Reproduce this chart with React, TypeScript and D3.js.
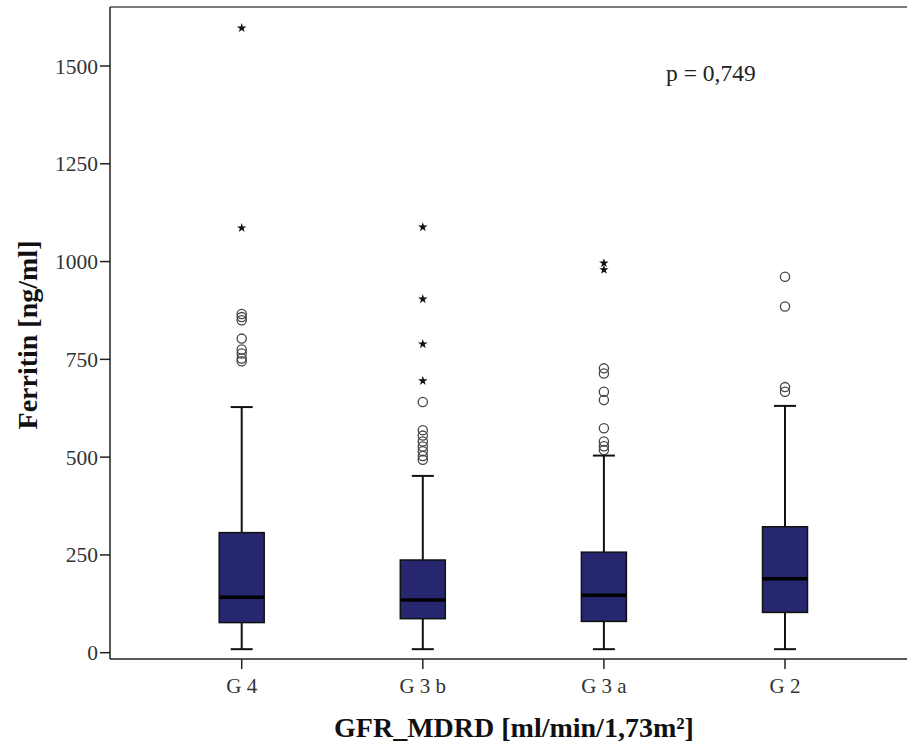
import React from "react";
import * as d3 from "d3";

const categories = ["G 4", "G 3 b", "G 3 a", "G 2"];
const q1 = [77, 87, 80, 103];
const median = [142, 135, 147, 189];
const q3 = [307, 237, 257, 322];
const whiskerLow = [9, 9, 9, 9];
const whiskerHigh = [628, 452, 504, 631];
const outlierCircles = [
  [866, 858, 850, 803, 775, 765, 752, 745],
  [641, 569, 555, 540, 527, 515, 503, 493],
  [727, 714, 667, 646, 574, 540, 528, 518],
  [961, 885, 679, 667],
];
const extremeStars = [
  [1597, 1086],
  [1088, 904, 789, 695],
  [996, 979],
  [],
];
const yTicks = [0, 250, 500, 750, 1000, 1250, 1500];
const pText = "p = 0,749";
const yTitle = "Ferritin [ng/ml]";
const xTitle = "GFR_MDRD [ml/min/1,73m²]";

const W = 907;
const H = 745;
const left = 110;
const right = 917;
const top = 7;
const bottom = 659;

export default function App() {
  const y = d3.scaleLinear().domain([0, 1500]).range([652.7, 66]);
  const x = d3
    .scalePoint<string>()
    .domain(categories)
    .range([241.7, 785]);
  const boxW = 45;
  const capW = 22;
  const star = d3.symbol().type(d3.symbolStar).size(28)() as string;
  const serif = "'Liberation Serif', 'Times New Roman', serif";
  const boxFill = "#27276f";

  return (
    <svg
      width={W}
      height={H}
      style={{ position: "absolute", left: 0, top: 0, background: "#fff" }}
      fontFamily={serif}
    >
      <rect x={0} y={0} width={W} height={H} fill="#fff" />
      {/* frame */}
      <line x1={left} x2={right} y1={top} y2={top} stroke="#7a7a7a" strokeWidth={2} />
      <line x1={left} x2={left} y1={top} y2={bottom} stroke="#222" strokeWidth={1.5} />
      <line x1={left} x2={right} y1={bottom} y2={bottom} stroke="#222" strokeWidth={1.5} />
      {/* y ticks */}
      {yTicks.map((t) => (
        <g key={t}>
          <line x1={left - 10} x2={left} y1={y(t)} y2={y(t)} stroke="#222" strokeWidth={1.5} />
          <text
            x={left - 12}
            y={y(t)}
            dy="0.35em"
            textAnchor="end"
            fontSize={21.5}
            fill="#333"
          >
            {t}
          </text>
        </g>
      ))}
      {/* x ticks */}
      {categories.map((c) => (
        <g key={c}>
          <line x1={x(c)!} x2={x(c)!} y1={bottom} y2={bottom + 10} stroke="#222" strokeWidth={1.5} />
          <text x={x(c)!} y={693} textAnchor="middle" fontSize={21} fill="#333">
            {c}
          </text>
        </g>
      ))}
      {/* boxes */}
      {categories.map((c, i) => {
        const cx = x(c)!;
        return (
          <g key={c}>
            <line x1={cx} x2={cx} y1={y(whiskerHigh[i])} y2={y(q3[i])} stroke="#111" strokeWidth={2} />
            <line x1={cx} x2={cx} y1={y(q1[i])} y2={y(whiskerLow[i])} stroke="#111" strokeWidth={2} />
            <line x1={cx - capW / 2} x2={cx + capW / 2} y1={y(whiskerHigh[i])} y2={y(whiskerHigh[i])} stroke="#111" strokeWidth={2} />
            <line x1={cx - capW / 2} x2={cx + capW / 2} y1={y(whiskerLow[i])} y2={y(whiskerLow[i])} stroke="#111" strokeWidth={2} />
            <rect
              x={cx - boxW / 2}
              y={y(q3[i])}
              width={boxW}
              height={y(q1[i]) - y(q3[i])}
              fill={boxFill}
              stroke="#111"
              strokeWidth={1.5}
            />
            <line x1={cx - boxW / 2} x2={cx + boxW / 2} y1={y(median[i])} y2={y(median[i])} stroke="#000" strokeWidth={3.5} />
            {outlierCircles[i].map((v, k) => (
              <circle key={"c" + k} cx={cx} cy={y(v)} r={4.6} fill="none" stroke="#444" strokeWidth={1.3} />
            ))}
            {extremeStars[i].map((v, k) => (
              <path key={"s" + k} d={star} transform={`translate(${cx},${y(v)})`} fill="#111" />
            ))}
          </g>
        );
      })}
      <text x={666} y={81} fontSize={23.5} fill="#222">
        {pText}
      </text>
      <text
        transform={`translate(37,335) rotate(-90)`}
        textAnchor="middle"
        fontSize={28}
        fontWeight="bold"
        fill="#111"
      >
        {yTitle}
      </text>
      <text x={514} y={737} textAnchor="middle" fontSize={28} fontWeight="bold" fill="#111">
        {xTitle}
      </text>
    </svg>
  );
}
